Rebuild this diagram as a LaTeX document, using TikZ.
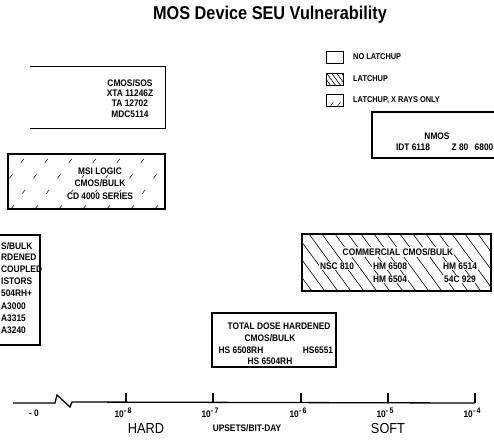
\documentclass[tikz,border=0pt]{standalone}
\usepackage{fontspec}
\usepackage{tikz}
\usetikzlibrary{positioning}
\usetikzlibrary{calc}

\newfontfamily\condfont{Liberation Sans}[FakeStretch=0.88]
\newcommand{\seutitle}{\condfont\bfseries\fontsize{18.5}{20}\selectfont}
\newcommand{\seubox}{\condfont\bfseries\fontsize{9.5}{11}\selectfont}
\newcommand{\seukey}{\condfont\bfseries\fontsize{8.4}{10}\selectfont}
\newcommand{\seuaxis}{\condfont\fontsize{14.5}{16}\selectfont}
\newcommand{\seuexp}[1]{10\raisebox{3.5pt}{\fontsize{8}{9}\selectfont -\,#1}}

\tikzset{
  devbox/.style={draw, line width=1.2pt, inner sep=0pt},
  keybox/.style={draw, line width=1pt, minimum width=17pt, minimum height=12pt, inner sep=0pt},
  txt/.style={font=\seubox, inner sep=0pt},
  keytxt/.style={font=\seukey, inner sep=0pt, anchor=west},
  latchup/.style={path picture={
      \foreach \k in {0,...,22}
        \draw[line width=0.6pt] ([xshift=\k*#1-45pt]path picture bounding box.north west) -- ++(44pt,-60pt);}},
  latchup/.default=13pt,
  xrays/.style={path picture={
      \foreach \k in {0,...,14}
        \draw[line width=0.5pt, dash pattern=on 5pt off 14pt] ([xshift=\k*#1-45pt]path picture bounding box.south west) -- ++(44pt,60pt);}},
  xrays/.default=24pt,
  axisline/.style={line width=1.3pt},
}

\begin{document}
\begin{tikzpicture}[x=1pt, y=-1pt]
  \useasboundingbox (0,0) rectangle (494,440);
  \clip (0,0) rectangle (494,440);

  % title
  \node[font=\seutitle, inner sep=0pt] (title) at (270,15) {MOS Device SEU Vulnerability};

  % legend
  \node[keybox]            (key1) at (335,57)  {};
  \node[keybox, latchup=5pt] (key2) at (335,79)  {};
  \node[keybox, xrays=7pt]   (key3) at (335,100) {};
  \node[keytxt] (key1t) at (353,57)  {NO LATCHUP};
  \node[keytxt] (key2t) at (353,79)  {LATCHUP};
  \node[keytxt] (key3t) at (353,100) {LATCHUP, X RAYS ONLY};

  % CMOS/SOS
  \node[inner sep=0pt, minimum width=135pt, minimum height=61pt] (sos) at (97.5,97.5) {};
  \draw[line width=1.2pt] (sos.south west) -- (sos.south east) -- (sos.north east) -- (sos.north west);
  \node[txt] (sos1) at (130,83)  {CMOS/SOS};
  \node[txt] (sos2) at (130,93)  {XTA 11246Z};
  \node[txt] (sos3) at (130,103) {TA 12702};
  \node[txt] (sos4) at (130,114) {MDC5114};

  % MSI logic
  \node[devbox, xrays, minimum width=157pt, minimum height=55pt] (msi) at (86.5,181.5) {};
  \node[txt, fill=white, inner sep=1pt] (msi1) at (100,171) {MSI LOGIC};
  \node[txt, fill=white, inner sep=1pt] (msi2) at (100,183) {CMOS/BULK};
  \node[txt, fill=white, inner sep=1pt] (msi3) at (100,196) {CD 4000 SERIES};

  % hardened, left edge
  \node[devbox, minimum width=60pt, minimum height=110pt] (hard) at (10,290) {};
  \node[txt, anchor=west] (hard1) at (1,246) {S/BULK};
  \node[txt, anchor=west] (hard2) at (1,257) {RDENED};
  \node[txt, anchor=west] (hard3) at (1,269) {COUPLED};
  \node[txt, anchor=west] (hard4) at (1,281) {ISTORS};
  \node[txt, anchor=west] (hard5) at (1,293) {504RH+};
  \node[txt, anchor=west] (hard6) at (1,306) {A3000};
  \node[txt, anchor=west] (hard7) at (1,318) {A3315};
  \node[txt, anchor=west] (hard8) at (1,330) {A3240};

  % NMOS
  \node[devbox, minimum width=130pt, minimum height=46pt] (nmos) at (437,135) {};
  \node[txt] (nmos1) at (437,136) {NMOS};
  \node[txt] (nmos2) at (413,147) {IDT 6118};
  \node[txt] (nmos3) at (460,147) {Z 80};
  \node[txt] (nmos4) at (484,147) {6800};

  % commercial CMOS/BULK
  \node[devbox, latchup, minimum width=189pt, minimum height=57pt] (com) at (396.5,262.5) {};
  \node[txt, fill=white, inner sep=1pt] (com1) at (398,252) {COMMERCIAL CMOS/BULK};
  \node[txt, fill=white, inner sep=1pt] (com2) at (337,266) {NSC 810};
  \node[txt, fill=white, inner sep=1pt] (com3) at (390,266) {HM 6508};
  \node[txt, fill=white, inner sep=1pt] (com4) at (460,266) {HM 6514};
  \node[txt, fill=white, inner sep=1pt] (com5) at (390,279) {HM 6504};
  \node[txt, fill=white, inner sep=1pt] (com6) at (460,279) {54C 929};

  % total dose hardened
  \node[devbox, minimum width=124pt, minimum height=54pt] (tdh) at (274,340) {};
  \node[txt] (tdh1) at (279,326) {TOTAL DOSE HARDENED};
  \node[txt] (tdh2) at (270,338) {CMOS/BULK};
  \node[txt] (tdh3) at (241,350) {HS 6508RH};
  \node[txt] (tdh4) at (318,350) {HS6551};
  \node[txt] (tdh5) at (270,361) {HS 6504RH};

  % axis
  \coordinate (ax0)  at (13,403);
  \coordinate (brk1) at (55,403);
  \coordinate (brk2) at (57,395);
  \coordinate (brk3) at (70,407);
  \coordinate (brk4) at (72,402);
  \coordinate (ax4)  at (475,403);
  \draw[axisline] (ax0) -- (brk1) -- (brk2) -- (brk3) -- (brk4) -- (ax4);
  \foreach \x/\n in {126/8, 213/7, 301/6, 388/5, 475/4} {
    \coordinate (t\n) at (\x,403);
    \draw[line width=1.2pt] (t\n) -- ++(0,-10);
    \node[txt, anchor=north] (l\n) at (\x-3,408) {\seuexp{\n}};
  }
  \node[txt] (zero) at (34,413) {- 0};
  \node[font=\seuaxis, inner sep=0pt] (hardlbl) at (146,428) {HARD};
  \node[txt] (unit) at (247,428) {UPSETS/BIT-DAY};
  \node[font=\seuaxis, inner sep=0pt] (softlbl) at (388,428) {SOFT};
\end{tikzpicture}
\end{document}
